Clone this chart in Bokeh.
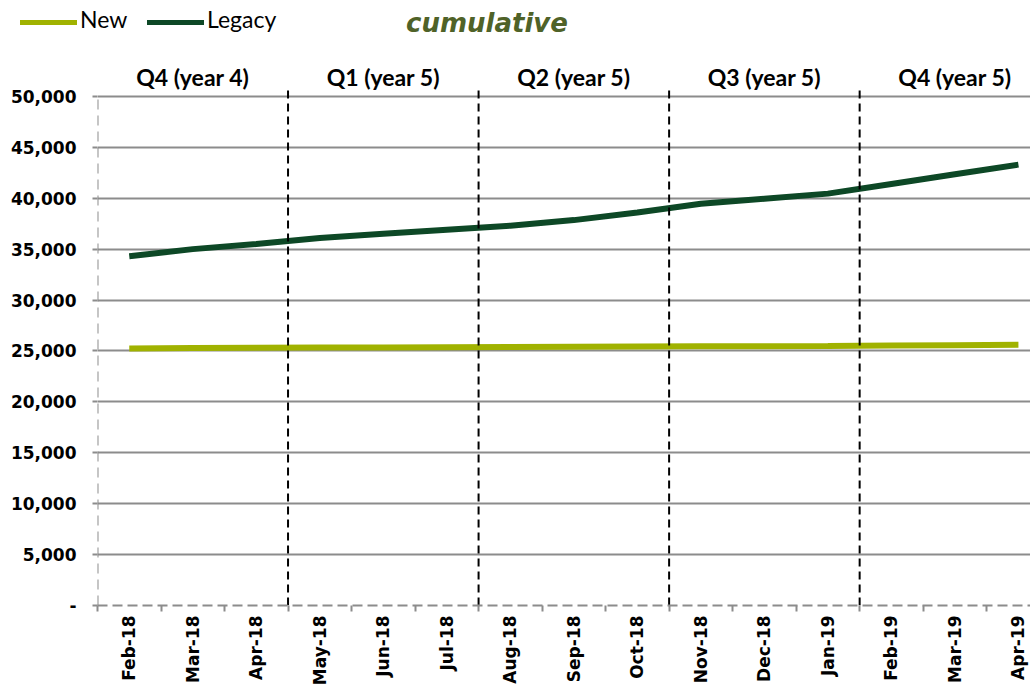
from math import pi
from bokeh.plotting import figure
from bokeh.layouts import column
from bokeh.models import (Range1d, FixedTicker, NumeralTickFormatter,
                          ColumnDataSource, Div)
from bokeh.core.properties import value
from bokeh.embed import file_html
from bokeh.resources import INLINE

# ---------------- data ----------------
months = ["Feb-18", "Mar-18", "Apr-18", "May-18", "Jun-18", "Jul-18", "Aug-18",
          "Sep-18", "Oct-18", "Nov-18", "Dec-18", "Jan-19", "Feb-19", "Mar-19", "Apr-19"]
new_vals = [25250, 25280, 25310, 25330, 25350, 25370, 25390, 25410,
            25430, 25450, 25470, 25490, 25530, 25570, 25610]
legacy_vals = [34300, 35000, 35500, 36100, 36500, 36900, 37300, 37850,
               38600, 39450, 39950, 40450, 41400, 42350, 43300]
series_names = ["New", "Legacy"]
quarters = ["Q4 (year 4)", "Q1 (year 5)", "Q2 (year 5)", "Q3 (year 5)", "Q4 (year 5)"]
months_per_quarter = 3
y_ticks = [0, 5000, 10000, 15000, 20000, 25000, 30000, 35000, 40000, 45000, 50000]
title_text = "cumulative"

# ---------------- colours / styles ----------------
NEW_COLOR = "#A0B200"
LEGACY_COLOR = "#0D4826"
GRID_COLOR = "#8C8C8C"
TITLE_COLOR = "#4F6228"
series_colors = [NEW_COLOR, LEGACY_COLOR]

W = 1030
HEAD_H = 46
MAIN_H = 642

# ---------------- header (legend + title) as HTML ----------------
sample_left = [20, 147]
text_left = [80, 207]
parts = []
for name, col, sl, tl in zip(series_names, series_colors, sample_left, text_left):
    parts.append(
        f'<span style="position:absolute;left:{sl}px;top:20px;width:57px;height:5px;'
        f'background:{col};"></span>'
        f'<span style="position:absolute;left:{tl}px;top:8px;font-family:Lato;'
        f'font-size:23px;line-height:23px;color:black;white-space:nowrap;">{name}</span>')
parts.append(
    f'<span style="position:absolute;left:406px;top:10px;font-family:\'DejaVu Sans\';'
    f'font-size:26px;line-height:26px;font-weight:bold;font-style:italic;'
    f'color:{TITLE_COLOR};white-space:nowrap;">{title_text}</span>')
header = Div(text='<div style="position:relative;width:%dpx;height:%dpx;">%s</div>'
             % (W, HEAD_H, "".join(parts)),
             width=W, height=HEAD_H, margin=0)

# ---------------- main plot ----------------
y_top = 54900
p = figure(width=W, height=MAIN_H, output_backend="svg", toolbar_location=None,
           x_range=Range1d(-0.5, 14.19), y_range=Range1d(0, y_top),
           min_border_left=97, min_border_right=0, min_border_top=0,
           min_border_bottom=82, margin=0)
p.outline_line_color = None

p.xgrid.visible = False
p.ygrid.ticker = FixedTicker(ticks=y_ticks[1:])
p.ygrid.grid_line_color = GRID_COLOR
p.ygrid.grid_line_width = 2

p.yaxis.ticker = FixedTicker(ticks=y_ticks)
p.yaxis.formatter = NumeralTickFormatter(format="0,0")
p.yaxis.major_label_overrides = {0: "-"}
p.yaxis.axis_line_color = None
p.yaxis.major_tick_line_color = GRID_COLOR
p.yaxis.major_tick_line_width = 2
p.yaxis.major_tick_out = 5
p.yaxis.major_tick_in = 0
p.yaxis.minor_tick_line_color = None
p.yaxis.major_label_standoff = 16
p.yaxis.axis_label_standoff = 0
p.yaxis.major_label_text_font = "DejaVu Sans"
p.yaxis.major_label_text_font_style = "bold"
p.yaxis.major_label_text_font_size = "17px"
p.yaxis.major_label_text_color = "black"

p.xaxis.ticker = FixedTicker(ticks=list(range(len(months))),
                             minor_ticks=[i - 0.5 for i in range(len(months) + 1)])
p.xaxis.major_label_overrides = {i: m for i, m in enumerate(months)}
p.xaxis.major_label_orientation = pi / 2
p.xaxis.axis_line_color = GRID_COLOR
p.xaxis.axis_line_width = 2
p.xaxis.axis_line_dash = "10 5"
p.xaxis.major_tick_line_color = None
p.xaxis.major_tick_out = 0
p.xaxis.major_tick_in = 0
p.xaxis.minor_tick_line_color = GRID_COLOR
p.xaxis.minor_tick_line_width = 2
p.xaxis.minor_tick_out = 6
p.xaxis.minor_tick_in = 0
p.xaxis.major_label_standoff = 4
p.xaxis.axis_label_standoff = 0
p.xaxis.major_label_text_font = "DejaVu Sans"
p.xaxis.major_label_text_font_style = "bold"
p.xaxis.major_label_text_font_size = "17px"
p.xaxis.major_label_text_color = "black"

# dashed y axis line (up to the top tick only)
p.segment(x0=[-0.5], y0=[y_ticks[0]], x1=[-0.5], y1=[y_ticks[-1]],
          line_color=GRID_COLOR, line_width=2, line_dash="10 6")

# data lines
src = ColumnDataSource(dict(x=list(range(len(months))), new=new_vals, legacy=legacy_vals))
p.line("x", "new", source=src, line_color=NEW_COLOR, line_width=6)
p.line("x", "legacy", source=src, line_color=LEGACY_COLOR, line_width=6)

# quarter separators
bounds = [q * months_per_quarter - 0.5 for q in range(1, len(quarters))]
p.segment(x0=bounds, y0=[0] * len(bounds), x1=bounds, y1=[50800] * len(bounds),
          line_color="black", line_width=2, line_dash="8 5")

# quarter labels
qsrc = ColumnDataSource(dict(
    x=[q * months_per_quarter + 1 for q in range(len(quarters))],
    y=[51900] * len(quarters), t=quarters))
p.text("x", "y", text="t", source=qsrc, text_font=value("Lato"),
       text_font_style="bold", text_font_size="23px", text_color="black",
       text_align="center", text_baseline="alphabetic")

layout = column(header, p, spacing=0)
open("out.html", "w").write(file_html(layout, INLINE))
